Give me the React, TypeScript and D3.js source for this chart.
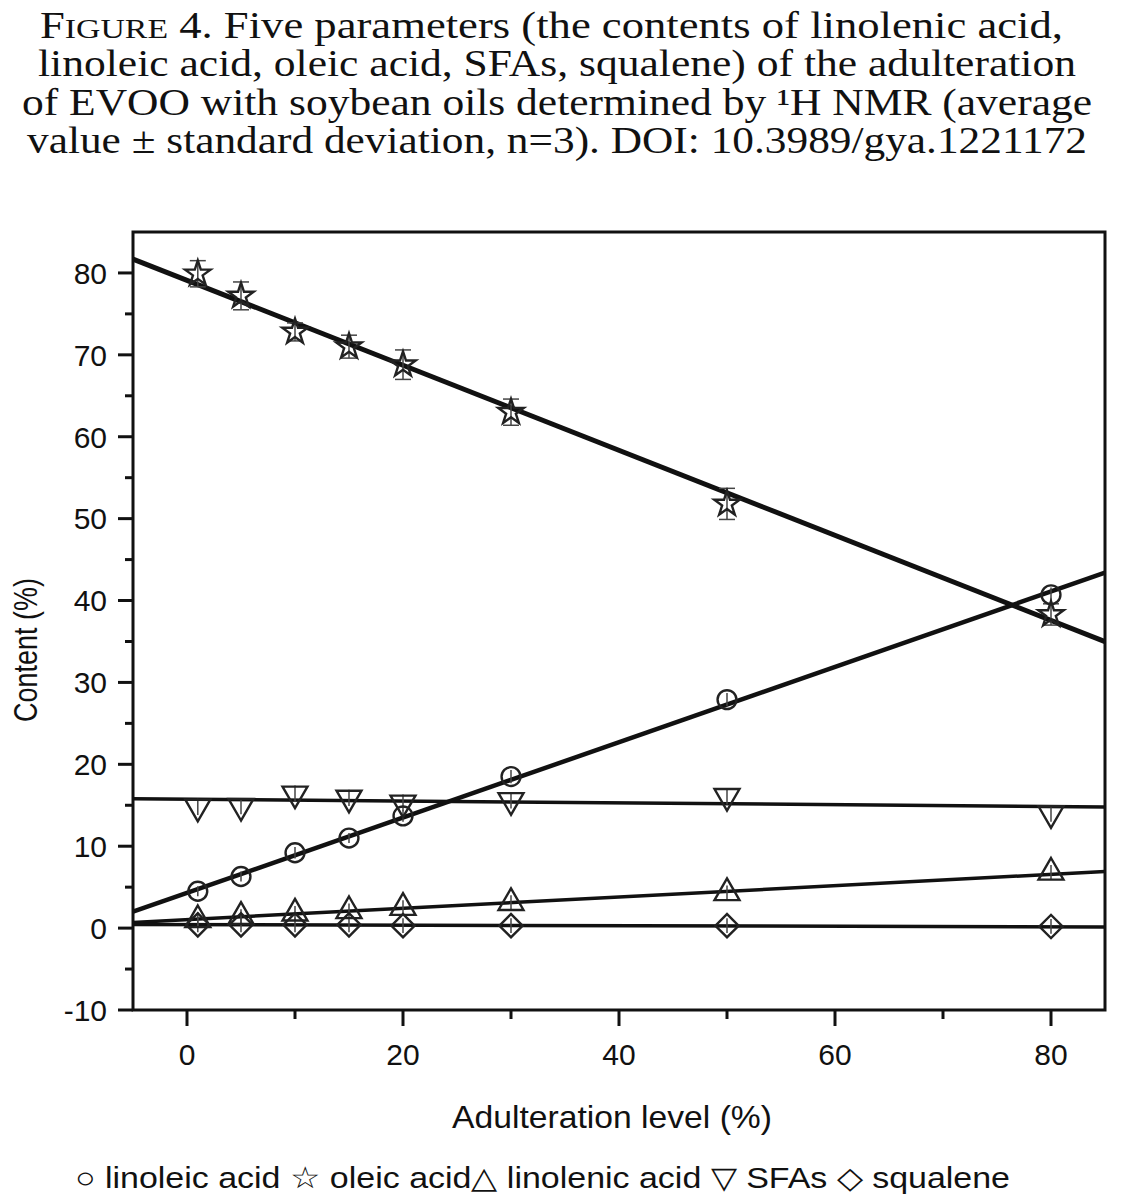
import React, { useRef, useEffect } from 'react';
import * as d3 from 'd3';

// adulteration levels (%)
const adulteration = [1, 5, 10, 15, 20, 30, 50, 80];

// contents (%)
const linoleic = [4.5, 6.3, 9.2, 11.0, 13.7, 18.5, 27.9, 40.7];
const linoleicErr = [0.6, 0.6, 0.7, 0.6, 0.7, 0.8, 0.8, 0.9];
const oleic = [79.9, 77.2, 72.8, 71.0, 68.8, 63.0, 51.8, 38.3];
const oleicErr = [1.6, 1.7, 1.1, 1.4, 1.8, 1.6, 1.9, 1.3];
const linolenic = [1.0, 1.4, 1.8, 2.1, 2.5, 3.1, 4.3, 6.8];
const linolenicErr = [0.9, 0.9, 0.9, 0.9, 0.9, 0.9, 0.9, 0.9];
const sfas = [14.8, 14.9, 16.4, 15.9, 15.3, 15.6, 16.1, 14.0];
const sfasErr = [1.0, 1.0, 1.0, 1.0, 1.0, 1.0, 1.0, 1.0];
const squalene = [0.4, 0.4, 0.4, 0.4, 0.3, 0.3, 0.3, 0.2];
const squaleneErr = [0.9, 0.9, 0.9, 0.9, 0.9, 0.9, 0.9, 0.9];

const seriesNames = ['linoleic acid', 'oleic acid', 'linolenic acid', 'SFAs', 'squalene'];
const seriesMarkers = ['circle', 'star', 'triangle', 'triangleDown', 'diamond'];
const seriesValues = [linoleic, oleic, linolenic, sfas, squalene];
const seriesErrors = [linoleicErr, oleicErr, linolenicErr, sfasErr, squaleneErr];

// linear fits (slope, intercept)
const fitSlopes = [0.46, -0.519, 0.069, -0.0111, -0.0033];
const fitIntercepts = [4.3, 79.1, 1.04, 15.74, 0.43];
const fitWidths = [4.5, 5, 3.5, 3.5, 3.5];

const xTicks = [0, 20, 40, 60, 80];
const xMinorTicks = [10, 30, 50, 70];
const yTicks = [-10, 0, 10, 20, 30, 40, 50, 60, 70, 80];
const yMinorTicks = [-5, 5, 15, 25, 35, 45, 55, 65, 75];

const titleLines = [
  'Five parameters (the contents of linolenic acid,',
  'linoleic acid, oleic acid, SFAs, squalene) of the adulteration',
  'of EVOO with soybean oils determined by ¹H NMR (average',
  'value ± standard deviation, n=3). DOI: 10.3989/gya.1221172',
];
const legendText = '○ linoleic acid ☆ oleic acid△ linolenic acid ▽ SFAs ◇ squalene';

const W = 1143;
const H = 1194;
const margin = { top: 232, right: 38, bottom: 184, left: 133 };

const App: React.FC = () => {
  const svgRef = useRef<SVGSVGElement>(null);

  useEffect(() => {
    if (!svgRef.current) return;
    const svg = d3.select(svgRef.current);
    svg.selectAll('*').remove();

    const innerWidth = W - margin.left - margin.right;
    const innerHeight = H - margin.top - margin.bottom;

    const x = d3.scaleLinear().domain([-5, 85]).range([0, innerWidth]);
    const y = d3.scaleLinear().domain([-10, 85]).range([innerHeight, 0]);

    const sans = "'Liberation Sans', Arial, Helvetica, sans-serif";
    const serif = "'Liberation Serif', 'Times New Roman', serif";

    // title
    const title = svg.append('g');
    const titleY = [38, 76, 115, 153];
    const titleX = [40, 38, 22, 27];
    const titleW = [1023, 1038, 1070, 1060];
    titleLines.forEach((line, i) => {
      const t = title.append('text')
        .attr('x', titleX[i])
        .attr('y', titleY[i])
        .attr('textLength', titleW[i])
        .attr('lengthAdjust', 'spacingAndGlyphs')
        .style('font-family', serif)
        .style('font-size', '37px')
        .style('fill', '#111');
      if (i === 0) {
        t.append('tspan').text('F');
        t.append('tspan').style('font-size', '28px').text('IGURE');
        t.append('tspan').text(' 4. ' + line);
      } else {
        t.text(line);
      }
    });

    const g = svg.append('g')
      .attr('transform', `translate(${margin.left},${margin.top})`);

    // fit lines
    seriesNames.forEach((_, i) => {
      const line = d3.line<number>()
        .x(d => x(d))
        .y(d => y(fitSlopes[i] * d + fitIntercepts[i]));
      g.append('path')
        .datum(x.domain())
        .attr('d', line)
        .attr('fill', 'none')
        .attr('stroke', '#111')
        .attr('stroke-width', fitWidths[i]);
    });

    // error bars
    seriesNames.forEach((_, i) => {
      const vals = seriesValues[i];
      const errs = seriesErrors[i];
      const eb = g.append('g')
        .attr('stroke', '#444')
        .attr('stroke-width', 1.5);
      adulteration.forEach((a, j) => {
        const cx = x(a);
        const top = y(vals[j] + errs[j]);
        const bot = y(vals[j] - errs[j]);
        eb.append('line').attr('x1', cx).attr('x2', cx).attr('y1', top).attr('y2', bot);
        if (i === 1) {
          eb.append('line').attr('x1', cx - 8).attr('x2', cx + 8).attr('y1', top).attr('y2', top);
          eb.append('line').attr('x1', cx - 8).attr('x2', cx + 8).attr('y1', bot).attr('y2', bot);
        }
      });
    });

    // markers
    const markerPath = (kind: string) => {
      if (kind === 'star') return d3.symbol(d3.symbolStar, 200)();
      if (kind === 'triangle' || kind === 'triangleDown') return d3.symbol(d3.symbolTriangle, 270)();
      if (kind === 'diamond') return d3.symbol(d3.symbolSquare, 270)();
      return d3.symbol(d3.symbolCircle, 280)();
    };
    seriesNames.forEach((_, i) => {
      const kind = seriesMarkers[i];
      const rot = kind === 'triangleDown' ? 180 : kind === 'diamond' ? 45 : 0;
      g.append('g').selectAll('path')
        .data(adulteration)
        .enter()
        .append('path')
        .attr('d', markerPath(kind))
        .attr('transform', (a, j) => `translate(${x(a)},${y(seriesValues[i][j])}) rotate(${rot})`)
        .attr('fill', 'none')
        .attr('stroke', '#222')
        .attr('stroke-width', 2.4);
    });

    // frame
    g.append('rect')
      .attr('width', innerWidth)
      .attr('height', innerHeight)
      .attr('fill', 'none')
      .attr('stroke', '#111')
      .attr('stroke-width', 3);

    // x axis
    const xAxis = g.append('g').attr('transform', `translate(0,${innerHeight})`);
    xTicks.forEach(t => {
      xAxis.append('line').attr('x1', x(t)).attr('x2', x(t)).attr('y1', 0).attr('y2', 16)
        .attr('stroke', '#111').attr('stroke-width', 3);
      xAxis.append('text')
        .attr('x', x(t))
        .attr('y', 55)
        .attr('text-anchor', 'middle')
        .style('font-family', sans)
        .style('font-size', '30px')
        .style('fill', '#111')
        .text(t);
    });
    xMinorTicks.forEach(t => {
      xAxis.append('line').attr('x1', x(t)).attr('x2', x(t)).attr('y1', 0).attr('y2', 9)
        .attr('stroke', '#111').attr('stroke-width', 3);
    });
    xAxis.append('text')
      .attr('x', 452 - margin.left)
      .attr('y', 118)
      .attr('textLength', 320)
      .attr('lengthAdjust', 'spacingAndGlyphs')
      .style('font-family', sans)
      .style('font-size', '32px')
      .style('fill', '#111')
      .text('Adulteration level (%)');

    // y axis
    const yAxis = g.append('g');
    yTicks.forEach(t => {
      yAxis.append('line').attr('x1', -15).attr('x2', 0).attr('y1', y(t)).attr('y2', y(t))
        .attr('stroke', '#111').attr('stroke-width', 3);
      yAxis.append('text')
        .attr('x', -26)
        .attr('y', y(t))
        .attr('dy', '0.36em')
        .attr('text-anchor', 'end')
        .style('font-family', sans)
        .style('font-size', '30px')
        .style('fill', '#111')
        .text(t);
    });
    yMinorTicks.forEach(t => {
      yAxis.append('line').attr('x1', -8).attr('x2', 0).attr('y1', y(t)).attr('y2', y(t))
        .attr('stroke', '#111').attr('stroke-width', 3);
    });
    svg.append('text')
      .attr('transform', 'translate(37,722) rotate(-90)')
      .attr('textLength', 144)
      .attr('lengthAdjust', 'spacingAndGlyphs')
      .style('font-family', sans)
      .style('font-size', '33px')
      .style('fill', '#111')
      .text('Content (%)');

    // legend
    svg.append('text')
      .attr('x', 75)
      .attr('y', 1188)
      .attr('textLength', 935)
      .attr('lengthAdjust', 'spacingAndGlyphs')
      .style('font-family', sans)
      .style('font-size', '30px')
      .style('fill', '#111')
      .text(legendText);
  }, []);

  return (
    <svg
      ref={svgRef}
      width={W}
      height={H}
      viewBox={`0 0 ${W} ${H}`}
      style={{ position: 'absolute', left: 0, top: 0, background: '#fff' }}
    />
  );
};

export default App;
